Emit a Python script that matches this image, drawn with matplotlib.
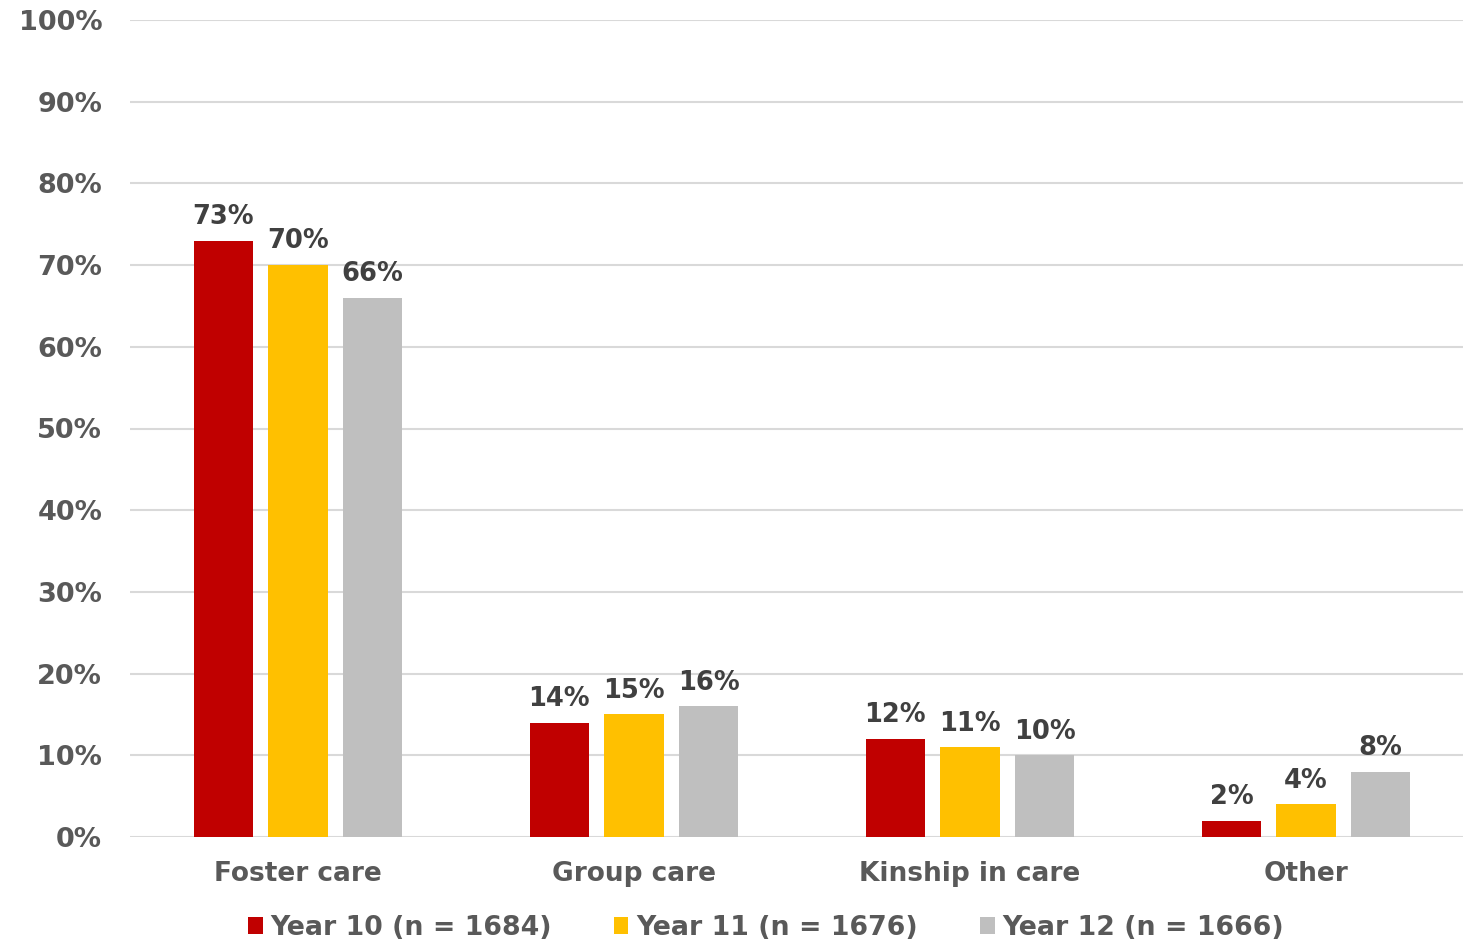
import numpy as np
import matplotlib.pyplot as plt

categorias = ['Foster care', 'Group care', 'Kinship in care', 'Other']
anos = ['Year 10 (n = 1684)', 'Year 11 (n = 1676)', 'Year 12 (n = 1666)']
year10 = [73, 14, 12, 2]
year11 = [70, 15, 11, 4]
year12 = [66, 16, 10, 8]
y_ticks = [0, 10, 20, 30, 40, 50, 60, 70, 80, 90, 100]

cores = ['#C00000', '#FFC000', '#BFBFBF']
series = [year10, year11, year12]

plt.rcParams['font.family'] = ['DejaVu Sans']

fig = plt.figure(figsize=(14.63, 9.42), dpi=100)
ax = fig.add_axes([130 / 1463, 105 / 942, 1344 / 1463, 817 / 942])

x = np.arange(len(categorias))
largura = 0.176
passo = 0.222

for i, valores in enumerate(series):
    pos = x + (i - 1) * passo
    barras = ax.bar(pos, valores, width=largura, color=cores[i],
                    label=anos[i], zorder=3)
    for b, v in zip(barras, valores):
        ax.text(b.get_x() + b.get_width() / 2, v + 1.3, f'{v}%',
                ha='center', va='bottom', fontsize=18.5, fontweight='bold',
                color='#404040', zorder=4)

ax.set_xlim(-0.5, 3.5)
ax.set_ylim(0, 100)
ax.set_yticks(y_ticks)
ax.set_yticklabels([f'{t}%' for t in y_ticks], fontsize=19.5,
                   fontweight='bold', color='#595959')
ax.set_xticks(x)
ax.set_xticklabels(categorias, fontsize=19, fontweight='bold',
                   color='#595959')
ax.tick_params(axis='y', length=0, pad=20)
ax.tick_params(axis='x', length=0, pad=17)

ax.grid(axis='y', color='#D9D9D9', linewidth=1.5, zorder=0)
for s in ax.spines.values():
    s.set_visible(False)

fig.legend(loc='center', bbox_to_anchor=(766 / 1463, 1 - 928 / 942),
           ncol=3, frameon=False,
           prop={'weight': 'bold', 'size': 19.3},
           handlelength=0.55, handleheight=0.55, handletextpad=0.3,
           columnspacing=2.3, labelcolor='#595959')

fig.savefig('out.png', dpi=100)
